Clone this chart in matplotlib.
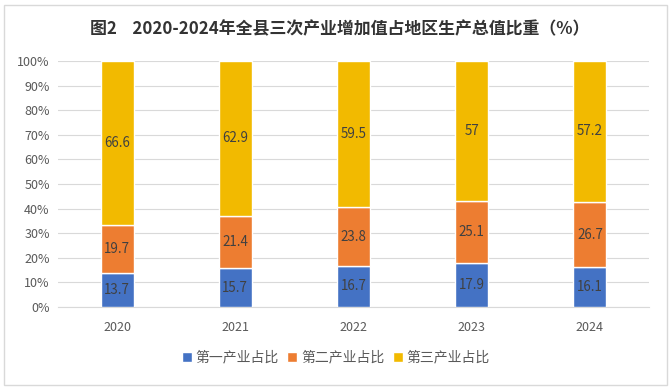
import numpy as np
import matplotlib
matplotlib.use("Agg")
import matplotlib.pyplot as plt
from matplotlib.patches import Rectangle

plt.rcParams['font.family'] = ['Noto Sans CJK SC', 'DejaVu Sans']

years = ["2020", "2021", "2022", "2023", "2024"]
primary = [13.7, 15.7, 16.7, 17.9, 16.1]
secondary = [19.7, 21.4, 23.8, 25.1, 26.7]
tertiary = [66.6, 62.9, 59.5, 57, 57.2]
series_names = ["第一产业占比", "第二产业占比", "第三产业占比"]
colors = ["#4472C4", "#ED7D31", "#F2BA00"]
yticks = [0, 10, 20, 30, 40, 50, 60, 70, 80, 90, 100]

fig = plt.figure(figsize=(6.72, 3.88), dpi=100)
ax = fig.add_axes([0.0863, 0.2088, 0.8795, 0.634])

x = np.arange(len(years))
bottom = np.zeros(len(years))
for vals, name, col in zip([primary, secondary, tertiary], series_names, colors):
    vals = np.array(vals, dtype=float)
    ax.bar(x, vals, width=0.28, bottom=bottom, color=col,
           edgecolor="white", linewidth=1, label=name, zorder=3)
    for xi, b, v in zip(x, bottom, vals):
        ax.text(xi, b + v / 2, f"{v:g}", ha="center", va="center",
                fontsize=9.6, color="#404040", zorder=4)
    bottom += vals

ax.set_xlim(-0.5, len(years) - 0.5)
ax.set_ylim(0, 100)
ax.set_yticks(yticks)
ax.set_yticklabels([f"{t}%" for t in yticks])
ax.set_xticks(x)
ax.set_xticklabels(years)
ax.tick_params(axis="both", length=0, labelsize=9, colors="#595959")
ax.tick_params(axis="x", pad=10)
ax.tick_params(axis="y", pad=6)
ax.grid(axis="y", color="#D9D9D9", linewidth=0.8, zorder=0)
for s in ["top", "right", "left"]:
    ax.spines[s].set_visible(False)
ax.spines["bottom"].set_color("#D9D9D9")

fig.text(0.134, 0.925, "图2    2020-2024年全县三次产业增加值占地区生产总值比重（%）",
         ha="left", va="center", fontsize=12.2, fontweight="bold", color="#333333")

ax.legend(loc="center", bbox_to_anchor=(0.5, 0.078), bbox_transform=fig.transFigure,
          ncol=3, frameon=False, fontsize=10, handlelength=0.7, handleheight=0.7,
          handletextpad=0.3, columnspacing=0.6, labelcolor="#595959")

fig.patches.append(Rectangle((0.006, 0.008), 0.986, 0.98, transform=fig.transFigure,
                             fill=False, edgecolor="#D9D9D9", linewidth=1))

fig.savefig("out.png", dpi=100)
